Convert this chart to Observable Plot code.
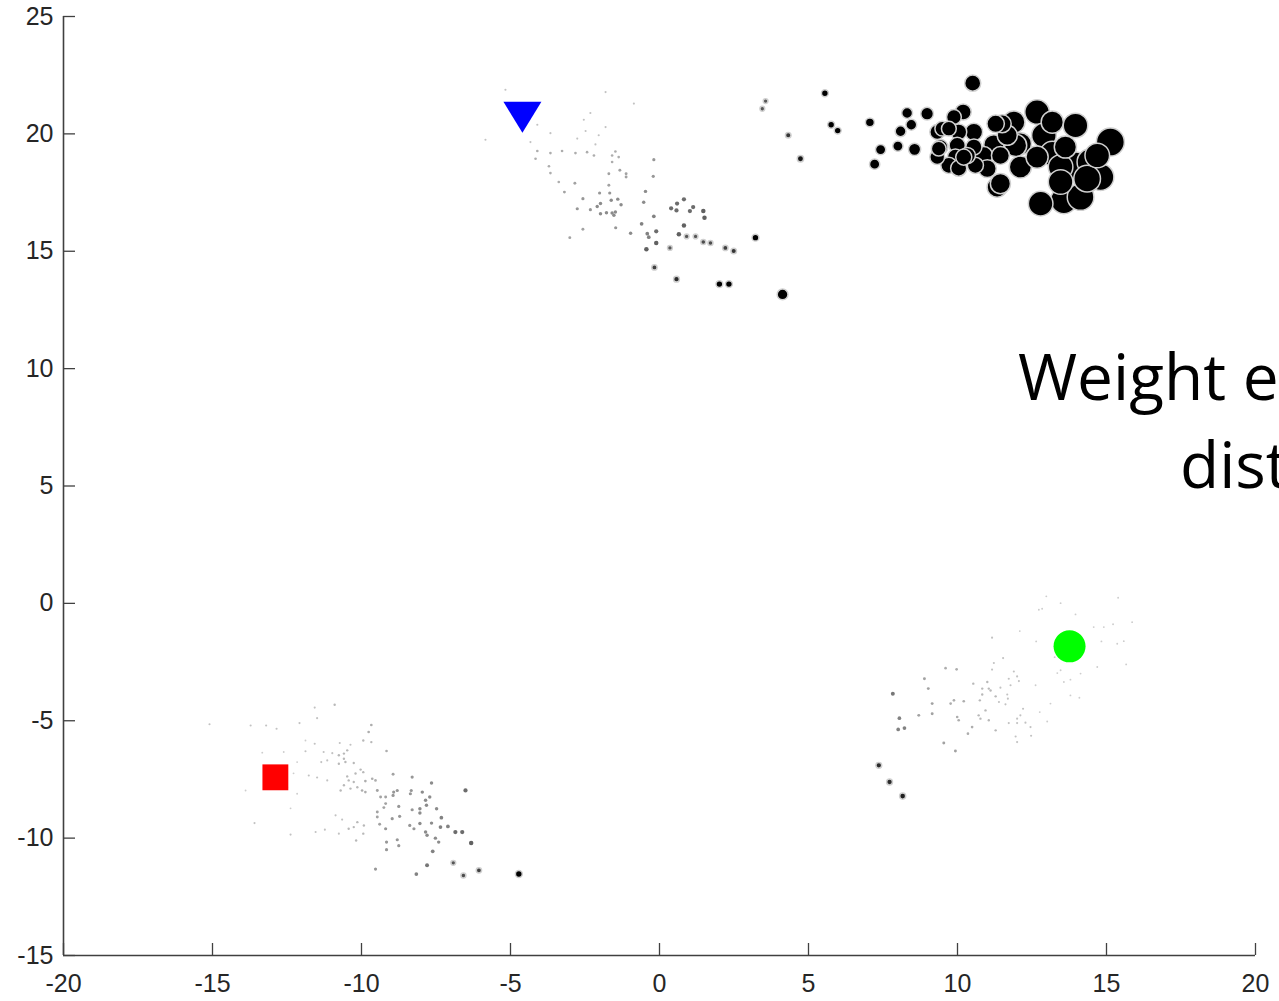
<!DOCTYPE html>
<html>
<head>
<meta charset="utf-8">
<script src="https://cdn.jsdelivr.net/npm/d3@7"></script>
<script src="https://cdn.jsdelivr.net/npm/@observablehq/plot@0.6"></script>
<style>
  html, body { margin: 0; padding: 0; background: #fff; overflow: hidden; }
  #chart { position: relative; width: 1279px; height: 1001px; }
</style>
</head>
<body>
<div id="chart"></div>
<script>
// ---- data: [x, y, weight] ----
const clusterTopRight = [
  [3.56,21.40,.12],[3.45,21.07,.12],[5.55,21.73,.2],[4.32,19.94,.15],[4.73,18.94,.18],
  [5.76,20.39,.2],[5.98,20.14,.2],[7.06,20.49,.28],[7.22,18.71,.33],[7.42,19.33,.33],
  [8.0,19.48,.33],[8.09,20.11,.35],[8.45,20.39,.35],[8.31,20.89,.35],[8.98,20.86,.42],
  [8.56,19.34,.4],[10.51,22.16,.55],
  [10.19,20.93,.55],[9.88,20.72,.5],[9.32,20.08,.5],[9.49,20.22,.5],[9.71,20.22,.5],
  [10.04,20.08,.55],[10.55,20.08,.6],[9.43,19.44,.5],[9.99,19.51,.55],[10.55,19.44,.55],
  [9.32,19.01,.5],[9.93,19.01,.55],[9.71,18.66,.55],[10.04,18.54,.55],[10.60,18.66,.55],
  [11.22,19.54,.7],[10.88,19.08,.62],[11.44,19.08,.62],[11.50,20.43,.62],[11.89,20.50,.78],
  [12.67,20.93,.87],[12.11,19.58,.78],[12.90,19.94,.87],[13.18,19.16,.87],[12.11,18.59,.78],
  [11.33,17.73,.7],[11.44,17.88,.7],[13.96,20.36,.87],[15.13,19.65,1.0],[13.62,19.44,.78],
  [13.46,18.59,.87],[13.96,18.66,.95],[14.46,18.80,.95],[14.69,19.08,.87],[14.80,18.16,.95],
  [12.79,17.03,.87],[13.57,17.17,.95],[14.13,17.31,.95],[13.18,20.50,.78],[12.67,19.01,.78],
  [11.67,19.94,.7],[11.0,18.52,.62],[10.33,19.08,.55],[13.46,17.95,.87],[14.35,18.09,.95],
  [10.21,19.01,.55],[11.28,20.43,.6],[11.95,19.51,.78],[9.37,19.37,.5]
];
const clusterTopMiddle = [
  [-1.81,21.78,.02],[-0.86,21.29,.02],[-5.84,19.75,.02],[-5.17,21.88,.02],[-2.32,20.89,.02],
  [-2.54,20.60,.02],[-4.10,20.39,.02],[-2.48,20.12,.02],[-1.81,20.29,.02],[-2.04,19.94,.02],
  [-3.66,20.03,.02],[-2.76,19.80,.02],[-4.33,19.65,.02],[-2.15,19.55,.02],
  [-4.10,19.27,.04],[-3.66,19.18,.04],[-3.27,19.27,.04],[-2.82,19.18,.04],[-2.43,19.22,.04],
  [-2.20,19.08,.04],[-1.59,19.08,.04],[-1.48,19.25,.04],[-1.37,19.01,.04],[-4.16,18.94,.04],
  [-0.19,18.90,.06],[-1.59,18.80,.04],[-3.71,18.62,.04],[-3.66,18.33,.04],[-1.70,18.30,.05],
  [-1.33,18.45,.05],[-1.12,18.30,.05],[-1.12,18.16,.05],[-0.21,18.19,.06],[-3.38,17.95,.04],
  [-2.84,17.90,.05],[-1.70,17.81,.05],[-3.19,17.52,.05],[-2.01,17.48,.06],[-1.67,17.48,.06],
  [-0.47,17.55,.07],[-2.57,17.24,.06],[-1.40,17.22,.07],[-1.62,17.17,.07],[-0.53,17.09,.07],
  [-1.98,17.03,.07],[-2.09,16.91,.07],[-1.29,16.98,.07],[-2.76,16.81,.06],[-2.32,16.77,.06],
  [-1.78,16.64,.07],[-1.98,16.60,.07],[-1.59,16.63,.07],[-1.48,16.67,.07],[-1.53,16.53,.07],
  [-0.19,16.49,.08],
  [0.82,17.21,.1],[0.59,17.03,.1],[0.39,16.83,.1],[0.57,16.74,.1],[1.02,16.71,.1],
  [1.13,16.88,.1],[1.47,16.71,.11],[1.51,16.43,.11],[-0.60,16.17,.08],[0.82,16.10,.11],
  [-2.57,15.94,.05],[-1.47,16.00,.06],[-0.97,15.77,.07],[-0.41,15.75,.08],[-0.36,15.60,.08],
  [-0.11,15.85,.1],[0.65,15.72,.11],[0.91,15.63,.12],[1.21,15.63,.12],[-3.01,15.58,.05],
  [-0.11,15.35,.11],[1.47,15.39,.13],[1.71,15.35,.13],[2.21,15.14,.14],[2.49,15.01,.15],
  [0.35,15.14,.12],[-0.44,15.08,.11],[3.22,15.58,.2],[-0.17,14.31,.14],[0.57,13.81,.16],
  [2.01,13.60,.2],[2.33,13.60,.2],[4.13,13.16,.35]
];
const clusterBottomLeft = [
  [-15.10,-5.15,.02],[-13.72,-5.20,.02],[-13.20,-5.20,.02],[-12.85,-5.34,.02],[-12.08,-5.10,.02],
  [-11.57,-4.44,.02],[-10.90,-4.32,.03],[-11.49,-4.89,.02],[-9.67,-5.18,.04],[-9.76,-5.48,.04],
  [-9.94,-5.84,.03],[-9.67,-5.91,.03],[-11.57,-5.98,.02],[-10.73,-5.95,.02],[-10.37,-6.02,.02],
  [-9.16,-6.29,.04],[-10.48,-6.26,.03],[-10.59,-6.40,.03],[-10.76,-6.47,.03],[-13.33,-6.36,.01],
  [-12.61,-6.33,.01],[-11.88,-6.30,.02],[-11.27,-6.33,.02],[-10.98,-6.38,.02],[-10.26,-6.80,.03],
  [-10.59,-6.62,.03],[-10.54,-6.76,.03],[-10.76,-6.83,.03],[-11.15,-6.69,.02],[-11.35,-6.76,.02],
  [-10.03,-7.08,.03],[-9.94,-7.19,.03],[-10.20,-7.25,.03],[-9.64,-7.47,.04],[-9.53,-7.54,.04],
  [-9.87,-7.57,.04],[-8.94,-7.28,.05],[-8.30,-7.40,.06],[-7.65,-7.65,.07],[-11.77,-7.33,.02],
  [-11.49,-7.42,.02],[-11.15,-7.54,.02],[-10.48,-7.37,.03],[-10.43,-7.54,.03],[-10.26,-7.61,.03],
  [-10.59,-7.75,.03],[-10.37,-7.89,.03],[-10.70,-7.97,.03],[-10.14,-7.83,.03],[-9.98,-7.97,.04],
  [-9.87,-8.04,.04],[-9.47,-7.97,.05],[-9.36,-8.25,.05],[-9.19,-8.25,.05],[-8.92,-8.04,.06],
  [-8.80,-7.97,.06],[-8.94,-8.18,.06],[-8.33,-7.97,.06],[-8.36,-8.11,.06],[-7.96,-8.04,.07],
  [-6.51,-7.97,.1],[-7.71,-8.25,.07],[-7.85,-8.39,.07],[-7.82,-8.60,.07],[-7.48,-8.75,.07],
  [-8.04,-8.75,.07],[-8.04,-8.93,.07],[-8.30,-8.79,.06],[-8.75,-8.65,.06],[-9.19,-8.53,.05],
  [-9.25,-8.70,.05],[-9.47,-8.89,.05],[-9.47,-9.10,.05],[-9.39,-9.41,.05],[-8.97,-9.17,.06],
  [-9.19,-9.60,.06],[-8.72,-9.07,.06],[-8.38,-9.46,.06],[-8.24,-9.60,.06],[-8.04,-9.38,.07],
  [-7.65,-9.36,.07],[-7.32,-9.13,.08],[-7.35,-9.53,.08],[-7.10,-9.50,.08],[-6.85,-9.74,.1],
  [-6.62,-9.74,.1],[-7.85,-9.74,.07],[-7.80,-9.88,.07],[-7.52,-10.00,.07],[-7.41,-10.17,.07],
  [-6.32,-10.21,.11],[-8.80,-10.07,.06],[-8.75,-10.32,.06],[-9.16,-10.17,.06],[-9.16,-10.49,.06],
  [-10.14,-9.32,.03],[-9.92,-9.46,.03],[-10.26,-9.53,.03],[-9.94,-9.81,.03],[-10.18,-10.10,.03],
  [-10.43,-9.60,.03],[-10.87,-9.03,.02],[-10.65,-9.21,.02],[-11.23,-9.64,.02],[-11.54,-9.74,.02],
  [-10.76,-9.81,.02],[-12.38,-9.85,.02],[-13.59,-9.36,.02],[-7.61,-10.56,.08],[-7.80,-11.16,.09],
  [-6.92,-11.05,.12],[-8.16,-11.53,.08],[-9.53,-11.32,.06],[-6.58,-11.59,.13],[-6.06,-11.37,.14],
  [-4.72,-11.53,.2],
  [-12.16,-6.76,.01],[-12.28,-7.24,.01],[-12.49,-7.83,.01],[-12.16,-8.11,.01],[-11.88,-5.84,.01],
  [-12.38,-8.73,.01],[-13.89,-7.97,.01]
];
const clusterBottomRight = [
  [12.98,0.30,.01],[15.39,0.24,.01],[13.46,0.01,.01],[12.84,-0.23,.01],[12.73,-0.27,.01],
  [13.96,-0.47,.01],[15.86,-0.80,.01],[15.22,-0.89,.01],[14.91,-1.01,.01],[14.57,-1.01,.01],
  [12.09,-1.18,.01],[11.16,-1.46,.02],[12.64,-1.62,.01],[14.83,-1.62,.01],[15.58,-1.61,.01],
  [15.36,-1.72,.01],[11.53,-2.33,.02],[11.22,-2.54,.02],[13.26,-2.29,.01],[15.66,-2.60,.01],
  [14.69,-2.71,.01],[14.13,-2.99,.01],[13.79,-3.25,.01],[13.46,-2.85,.01],[13.35,-2.97,.01],
  [13.57,-3.35,.01],[11.16,-2.82,.02],[9.60,-2.76,.04],[9.97,-2.81,.04],[11.89,-2.90,.02],
  [12.00,-3.11,.02],[11.72,-3.21,.02],[11.78,-3.49,.02],[12.06,-3.31,.02],[8.89,-3.21,.05],
  [9.02,-3.63,.05],[10.53,-3.42,.03],[11.00,-3.35,.03],[11.05,-3.63,.03],[10.83,-3.63,.03],
  [11.11,-3.71,.03],[10.83,-3.88,.03],[11.28,-3.96,.03],[11.44,-3.59,.02],[12.62,-3.49,.01],
  [11.67,-3.88,.02],[11.69,-4.06,.02],[10.75,-4.13,.03],[10.94,-4.56,.03],[10.21,-4.17,.04],
  [9.88,-4.13,.04],[9.77,-4.27,.04],[9.15,-4.27,.05],[11.39,-4.20,.02],[11.61,-4.30,.02],
  [13.79,-3.92,.01],[14.09,-4.02,.01],[13.12,-4.27,.01],[12.20,-4.49,.02],[12.76,-4.63,.01],
  [12.11,-4.77,.02],[12.00,-4.91,.02],[12.00,-5.10,.02],[11.72,-5.10,.02],[12.28,-5.08,.02],
  [12.45,-5.27,.02],[13.01,-5.03,.01],[9.15,-4.70,.05],[8.70,-4.77,.05],[10.71,-4.77,.03],
  [10.77,-4.91,.03],[11.05,-4.98,.03],[9.99,-4.84,.04],[10.04,-4.98,.04],[10.49,-5.27,.04],
  [11.28,-5.41,.03],[10.35,-5.55,.04],[11.95,-5.67,.02],[12.00,-5.91,.02],[12.47,-5.64,.02],
  [9.54,-5.95,.05],[9.93,-6.29,.05],[7.83,-3.85,.09],[8.05,-4.89,.08],[8.01,-5.37,.08],
  [8.22,-5.31,.08],[7.36,-6.90,.16],[7.72,-7.61,.16],[8.16,-8.21,.17]
];

// centroid markers
const centroidX = [-4.6, -12.89, 13.76];
const centroidY = [20.9, -7.41, -1.83];
const centroidShape = ["triangle-down", "square", "circle"];
const centroidColor = ["#0000ff", "#ff0000", "#00ff00"];

const xTicks = [-20, -15, -10, -5, 0, 5, 10, 15, 20];
const yTicks = [-15, -10, -5, 0, 5, 10, 15, 20, 25];

// slide text overlapping the chart (cut by the right edge in the original)
const annotationLines = ["Weight e", "dist"];

// ---- build tables ----
const points = [...clusterTopRight, ...clusterTopMiddle, ...clusterBottomLeft, ...clusterBottomRight]
  .map(([x, y, w]) => ({x, y, w}))
  .sort((a, b) => a.w - b.w);
const light = points.filter(d => d.w < 0.12);
const heavy = points.filter(d => d.w >= 0.12);
const centroids = centroidX.map((x, i) => ({x, y: centroidY[i], shape: centroidShape[i], color: centroidColor[i]}));

const triangleDown = {
  draw(context, size) {
    const r = Math.sqrt(size / Math.PI);
    context.moveTo(-r, -0.58 * r);
    context.lineTo(r, -0.58 * r);
    context.lineTo(0, 1.05 * r);
    context.closePath();
  }
};

const W = 1279, H = 1001;
const mL = 63, mT = 16, mB = 46, mR = 24;
const innerW = W - mL - mR, innerH = H - mT - mB;
const axisColor = "#404040";
const font = "'Liberation Sans', Arial, sans-serif";

const chart = Plot.plot({
  width: W, height: H,
  marginLeft: mL, marginTop: mT, marginBottom: mB, marginRight: mR,
  style: {fontFamily: font, fontSize: "25px", color: "#262626", background: "white", overflow: "visible"},
  x: {domain: [-20, 20], ticks: xTicks, label: null},
  y: {domain: [-15, 25], ticks: yTicks, label: null},
  r: {type: "linear", domain: [0, 1], range: [0.8, 14]},
  color: {type: "linear", domain: [0, 0.2], range: ["#d8d8d8", "#000000"], clamp: true},
  marks: [
    Plot.dot(light, {x: "x", y: "y", r: "w", fill: "w", stroke: "none"}),
    Plot.dot(heavy, {x: "x", y: "y", r: "w", fill: "w", stroke: "#d0d0d0", strokeWidth: 1.5}),
    Plot.dot(centroids.filter(d => d.shape === "square"), {x: "x", y: "y", symbol: "square", r: 14.6, fill: "color", stroke: "none"}),
    Plot.dot(centroids.filter(d => d.shape === "circle"), {x: "x", y: "y", symbol: "circle", r: 16, fill: "color", stroke: "none"}),
    Plot.dot(centroids.filter(d => d.shape === "triangle-down"), {x: "x", y: "y", symbol: triangleDown, r: 19, fill: "color", stroke: "none"}),
    // inward ticks
    Plot.tickX(xTicks, {x: d => d, insetTop: innerH - 12, stroke: axisColor, strokeWidth: 1.3}),
    Plot.tickY(yTicks, {y: d => d, insetRight: innerW - 12, stroke: axisColor, strokeWidth: 1.3}),
    // axis lines (left and bottom)
    Plot.ruleX([-20], {stroke: axisColor, strokeWidth: 1.6}),
    Plot.ruleY([-15], {stroke: axisColor, strokeWidth: 1.6}),
    Plot.axisX(xTicks, {tickSize: 0, tickPadding: 19, tickFormat: d => String(d), fill: "#262626", label: null}),
    Plot.axisY(yTicks, {tickSize: 0, tickPadding: 10, tickFormat: d => String(d), fill: "#262626", label: null})
  ]
});

document.getElementById("chart").appendChild(chart);

const svg = d3.select(chart);
const ann = svg.append("g")
  .attr("font-family", "'Open Sans', 'Noto Sans', sans-serif")
  .attr("font-size", 64)
  .attr("text-anchor", "start")
  .attr("fill", "#000");
ann.append("text").attr("x", 1018).attr("y", 400).text(annotationLines[0]);
ann.append("text").attr("x", 1180).attr("y", 488).text(annotationLines[1]);
</script>
</body>
</html>
